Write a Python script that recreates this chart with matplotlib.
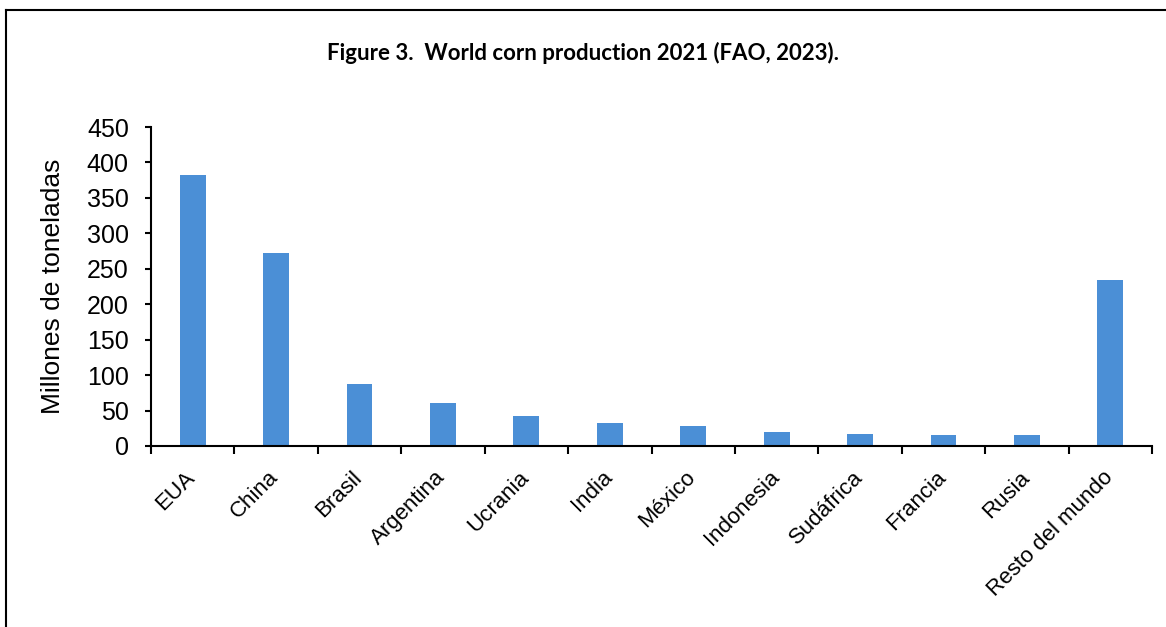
import numpy as np
import matplotlib
matplotlib.use('Agg')
import matplotlib.pyplot as plt
import matplotlib.transforms as mtransforms
from matplotlib.lines import Line2D

countries = ['EUA', 'China', 'Brasil', 'Argentina', 'Ucrania', 'India', 'México',
             'Indonesia', 'Sudáfrica', 'Francia', 'Rusia', 'Resto del mundo']
production = [382, 272, 88, 60, 42, 32, 28, 20, 17, 15, 15, 234]
yticks = [0, 50, 100, 150, 200, 250, 300, 350, 400, 450]

plt.rcParams['font.family'] = ['Liberation Sans', 'DejaVu Sans']

fig = plt.figure(figsize=(11.66, 6.27), dpi=100)
ax = fig.add_axes([0.1295, 0.2887, 0.8585, 0.5087])

x = np.arange(len(countries))
ax.bar(x, production, width=0.31, color='#4B8FD6')

ax.set_xlim(-0.5, len(countries) - 0.5)
ax.set_ylim(0, 450)
ax.set_yticks(yticks)
ax.tick_params(axis='y', labelsize=18, length=4, width=1.5, direction='out', pad=12)

# ticks between categories, labels centred under the bars
ax.set_xticks(np.arange(len(countries) + 1) - 0.5)
ax.set_xticklabels([])
ax.tick_params(axis='x', which='major', length=6, width=1.5, direction='out')
ax.set_xticks(x, minor=True)
ax.set_xticklabels(countries, minor=True, rotation=45, ha='right',
                   rotation_mode='anchor', fontsize=16)
ax.tick_params(axis='x', which='minor', length=0, pad=15)
shift = mtransforms.ScaledTranslation(-8 / 100, 0, fig.dpi_scale_trans)
for lab in ax.get_xticklabels(minor=True):
    lab.set_transform(lab.get_transform() + shift)

for side in ['top', 'right']:
    ax.spines[side].set_visible(False)
for side in ['left', 'bottom']:
    ax.spines[side].set_linewidth(1.5)

ax.set_ylabel('Millones de toneladas', fontsize=19, labelpad=16)

fig.text(0.5, 0.916, 'Figure 3.  World corn production 2021 (FAO, 2023).',
         ha='center', va='center', fontsize=16, fontweight='bold', family='Lato')

# frame around the figure (only left and top visible in the crop)
fig.add_artist(Line2D([0.0055, 0.0055], [0, 0.984], color='black', lw=1.5,
                      transform=fig.transFigure))
fig.add_artist(Line2D([0.0055, 1.0], [0.984, 0.984], color='black', lw=1.5,
                      transform=fig.transFigure))

fig.savefig('out.png', dpi=100)
